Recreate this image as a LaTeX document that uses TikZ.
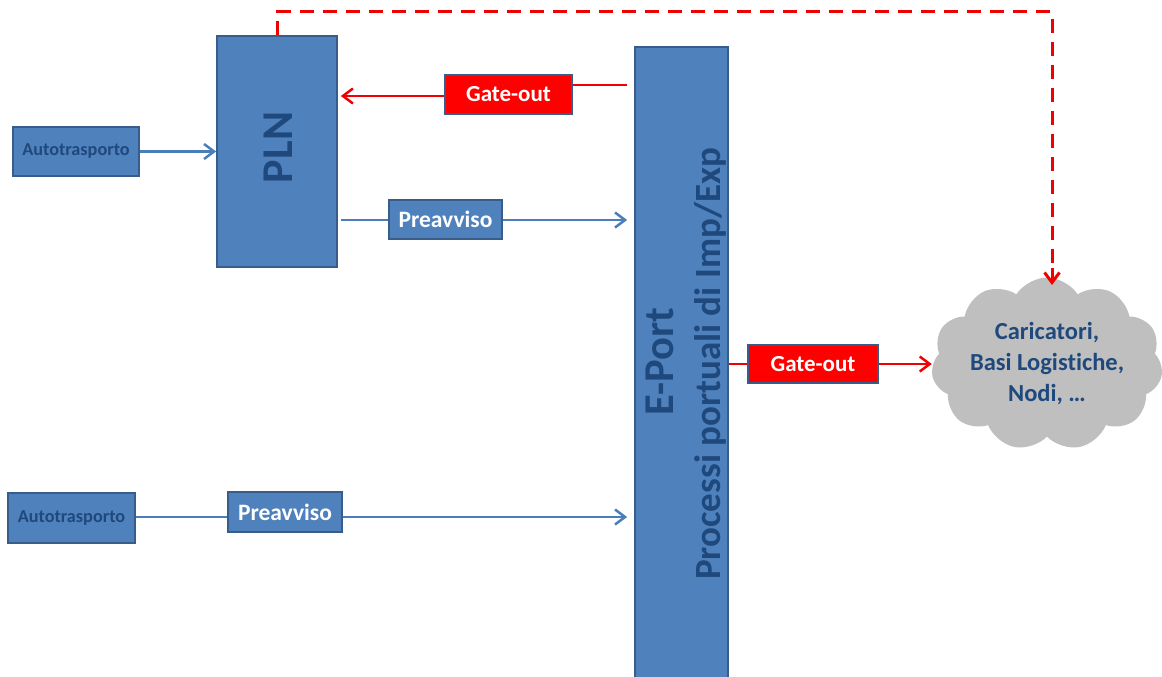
\documentclass[tikz,border=0pt]{standalone}
\usepackage{fontspec}
\setmainfont{Carlito}[Ligatures=NoCommon]
\usetikzlibrary{arrows.meta,shapes.symbols}

\definecolor{boxfill}{HTML}{4F81BD}
\definecolor{boxline}{HTML}{385D8A}
\definecolor{darktext}{HTML}{1F497D}
\definecolor{flowblue}{HTML}{4A7EBB}
\definecolor{flowred}{HTML}{F00000}
\definecolor{cloudgray}{HTML}{BFBFBF}

\tikzset{
  bluebox/.style={draw=boxline, fill=boxfill, line width=1.8pt, inner sep=0pt},
  redbox/.style={draw=boxline, fill=red, line width=1.8pt, inner sep=0pt,
    text=white, font=\bfseries\fontsize{23}{27}\selectfont},
  notebox/.style={bluebox, text=white, font=\bfseries\fontsize{23.5}{27}\selectfont},
  truckbox/.style={bluebox, text=darktext, font=\bfseries\fontsize{18.2}{21}\selectfont},
  bluearrow/.style={draw=flowblue, line width=2.5pt,
    -{Straight Barb[length=10pt,width=15pt]}},
  blueline/.style={draw=flowblue, line width=2.5pt},
  redarrow/.style={draw=flowred, line width=2.5pt,
    -{Straight Barb[length=10pt,width=15pt]}},
  redline/.style={draw=flowred, line width=2.5pt},
  reddash/.style={draw=flowred, line width=3pt, dash pattern=on 14pt off 9pt}
}

\begin{document}
\begin{tikzpicture}[x=1pt,y=-1pt]
  \useasboundingbox (0,0) rectangle (1162,677);

  % main blocks
  \node[bluebox, minimum width=120pt, minimum height=231pt] (pln) at (277,151.5) {};
  \node[rotate=90, text=darktext, font=\bfseries\fontsize{44}{52}\selectfont] (plnlabel) at (278,147.5) {PLN};

  \node[bluebox, minimum width=93pt, minimum height=650pt] (eport) at (681.5,372) {};
  \node[rotate=90, anchor=base, text=darktext, font=\bfseries\fontsize{42.5}{50}\selectfont] (eportlabel) at (673,361.5) {E-Port};
  \node[rotate=90, anchor=base, text=darktext, font=\bfseries\fontsize{37}{44}\selectfont] (eportsub) at (720,364) {Processi portuali di Imp/Exp};

  % hauliers and notices
  \node[truckbox, minimum width=126pt, minimum height=49pt] (auto1) at (76,151.5) {Autotrasporto};
  \node[truckbox, minimum width=127pt, minimum height=50pt] (auto2) at (71.5,518) {Autotrasporto};
  \node[notebox, minimum width=113pt, minimum height=39pt] (prev1) at (445.5,219.5) {Preavviso};
  \node[notebox, minimum width=114pt, minimum height=40pt] (prev2) at (285,512) {Preavviso};

  % gate-out messages
  \node[redbox, minimum width=127pt, minimum height=39pt] (gate1) at (508.5,94.5) {Gate-out};
  \node[redbox, minimum width=130pt, minimum height=38pt] (gate2) at (813,364) {Gate-out};

  % destinations
  \node[cloud, cloud puffs=11, cloud puff arc=115, aspect=1.5, fill=cloudgray,
        inner sep=0pt, minimum width=214pt, minimum height=142pt,
        text=darktext, align=center, font=\bfseries\fontsize{24.5}{31}\selectfont]
        (dest) at (1047,364) {Caricatori,\\Basi Logistiche,\\Nodi, \dots};

  % upper haulier flow
  \draw[bluearrow] (auto1) -- (pln);
  \draw[blueline] ([xshift=3pt]pln.east |- 0,220) -- (prev1.west |- 0,220);
  \draw[bluearrow] (prev1.east |- 0,220) -- ([xshift=-7pt]eport.west |- 0,220);

  % lower haulier flow
  \draw[blueline] (auto2.east |- 0,517) -- (prev2.west |- 0,517);
  \draw[bluearrow] (prev2.east |- 0,517) -- ([xshift=-7pt]eport.west |- 0,517);

  % gate-out back to PLN
  \draw[redline] ([xshift=-7pt]eport.west |- 0,85) -- (gate1.east |- 0,85);
  \draw[redarrow] (gate1.west |- 0,96) -- ([xshift=3pt]pln.east |- 0,96);

  % gate-out to destinations
  \draw[redline] (eport.east |- gate2) -- (gate2.west);
  \draw[redarrow] (gate2.east) -- ([xshift=-1pt]dest.west |- gate2);

  % notification from PLN to destinations
  \coordinate (topleft) at (277,12);
  \coordinate (topright) at (1052,12);
  \draw[reddash] (pln.north) -- (topleft) -- (topright) -- (1052,270);
  \draw[draw=flowred, line width=3pt, -{Straight Barb[length=10pt,width=15pt]}] (1052,268) -- (1052,285);
\end{tikzpicture}
\end{document}
